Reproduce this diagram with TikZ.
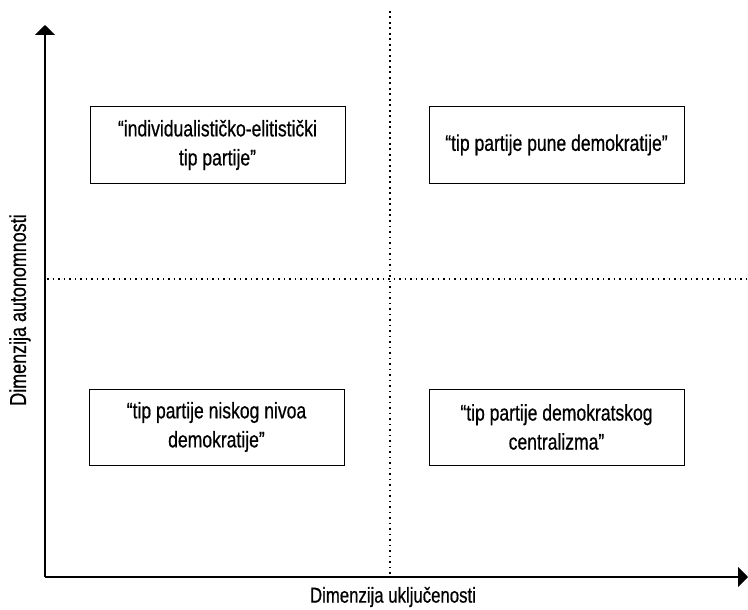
\documentclass[tikz,border=0pt]{standalone}
\usepackage{fontspec}
\setmainfont[FakeStretch=0.78,FakeBold=0.6]{Liberation Sans}
\usetikzlibrary{arrows.meta,positioning}
\tikzset{
  quadbox/.style={draw=black, line width=1pt, fill=white, align=center,
                  minimum width=255pt, minimum height=76pt, inner sep=0pt,
                  font=\fontsize{22.5}{29}\selectfont},
  axisarrow/.style={-{Triangle[length=10pt,width=20pt]}, line width=2pt},
  divider/.style={line width=1.8pt, dash pattern=on 1.8pt off 3.7pt},
  axislabel/.style={font=\fontsize{21.5}{24}\selectfont, inner sep=0pt},
}
\begin{document}
\begin{tikzpicture}[x=1pt,y=-1pt]
  \useasboundingbox (0,0) rectangle (748,610);

  % ---- Axes ----
  \coordinate (origin) at (45,577);
  \coordinate (ytip)   at (45,25);
  \coordinate (xtip)   at (748,577);
  \coordinate (vtop)   at (390,11);
  \coordinate (vbot)   at (390,576);
  \coordinate (hleft)  at (47,279);
  \coordinate (hright) at (748,279);

  \draw[divider] (vtop) -- (vbot);
  \draw[divider] (hleft) -- (hright);
  \draw[axisarrow] (origin) -- (ytip);
  \draw[axisarrow] (origin) -- (xtip);

  % ---- Axis labels ----
  \node[axislabel] (xlab) at (393,597) {Dimenzija uključenosti};
  \node[axislabel, font=\fontsize{23}{26}\selectfont, rotate=90] (ylab) at (20,310) {Dimenzija autonomnosti};

  % ---- Quadrants ----
  \node[quadbox] (elit)  at (217.5,145) {“individualističko-elitistički\\tip partije”};
  \node[quadbox] (puna)  at (556.5,145) {“tip partije pune demokratije”};
  \node[quadbox] (nisko) at (216.5,427) {“tip partije niskog nivoa\\demokratije”};
  \node[quadbox] (centr) at (556.5,427) {“tip partije demokratskog\\centralizma”};

\end{tikzpicture}
\end{document}
